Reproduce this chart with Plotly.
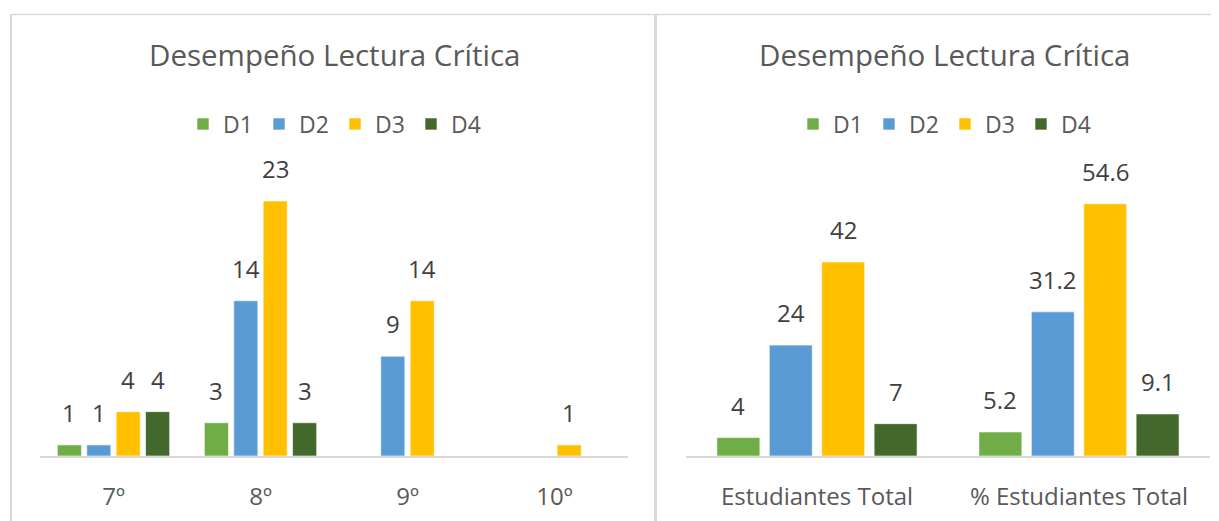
import plotly.graph_objects as go

# la pagina deja 8px de margen en el body: el grafico ocupa el resto de la ventana
OFF = 8
W, H = 1219 - OFF, 521 - OFF

series = ['D1', 'D2', 'D3', 'D4']
colors = ['#70AD47', '#5B9BD5', '#FFC000', '#43682B']

grados = ['7º', '8º', '9º', '10º']
d1_grado = [1, 3, 0, 0]
d2_grado = [1, 14, 9, 0]
d3_grado = [4, 23, 14, 1]
d4_grado = [4, 3, 0, 0]

totales = ['Estudiantes Total', '% Estudiantes Total']
d1_total = [4, 5.2]
d2_total = [24, 31.2]
d3_total = [42, 54.6]
d4_total = [7, 9.1]

titulo = 'Desempeño Lectura Crítica'

FONT = 'Open Sans'
GRIS = '#595959'
BARGAP = 0.2


def px(x):
    # pixel de pantalla -> coordenada paper
    return (x - OFF) / W


def py(y):
    return 1 - (y - OFF) / H


fig = go.Figure()

paneles = [
    (grados, [d1_grado, d2_grado, d3_grado, d4_grado], 'x', 'y', 'legend'),
    (totales, [d1_total, d2_total, d3_total, d4_total], 'x2', 'y2', 'legend2'),
]

annotations = []
for cats, vals, xa, ya, leg in paneles:
    for j, (name, col, v) in enumerate(zip(series, colors, vals)):
        fig.add_trace(go.Bar(
            x=cats, y=v, name=name, xaxis=xa, yaxis=ya, legend=leg,
            marker=dict(color=col, line=dict(color='rgba(255,255,255,0.6)', width=1)),
            hoverinfo='skip',
        ))
        # etiquetas de datos (se omiten los ceros)
        slot = (1 - BARGAP) / len(series)
        for i, val in enumerate(v):
            if val == 0:
                continue
            annotations.append(dict(
                x=i + (j - 1.5) * slot, y=val, xref=xa, yref=ya,
                text=str(val), showarrow=False, yanchor='bottom', yshift=14,
                font=dict(family=FONT, size=24, color='#404040'),
            ))

# titulos
for cx in (334, 944):
    annotations.append(dict(
        x=px(cx), y=py(55), xref='paper', yref='paper', text=titulo,
        showarrow=False, xanchor='center', yanchor='middle',
        font=dict(family=FONT, size=29.5, color=GRIS),
    ))

top, bottom = 160, 456
leg_common = dict(
    orientation='h', xanchor='center', yanchor='middle', y=py(124),
    font=dict(family=FONT, size=23, color=GRIS),
    entrywidth=31, entrywidthmode='pixels', bgcolor='rgba(0,0,0,0)',
)

axis_x = dict(
    showline=True, linecolor='#d9d9d9', linewidth=2, ticks='',
    showgrid=False, zeroline=False, ticklabelstandoff=18,
    tickfont=dict(family=FONT, size=24, color=GRIS), fixedrange=True,
)
axis_y = dict(visible=False, showgrid=False, zeroline=False, fixedrange=True)

borde = '#d9d9d9'
shapes = [
    dict(type='line', xref='paper', yref='paper', x0=px(10), x1=1, y0=py(14.5), y1=py(14.5),
         line=dict(color=borde, width=1.5)),
    dict(type='line', xref='paper', yref='paper', x0=px(11), x1=px(11), y0=py(14), y1=0,
         line=dict(color=borde, width=2)),
    dict(type='line', xref='paper', yref='paper', x0=px(655.5), x1=px(655.5), y0=py(14), y1=0,
         line=dict(color=borde, width=3)),
]

fig.update_layout(
    width=W, height=H,
    margin=dict(l=0, r=0, t=0, b=0, autoexpand=False),
    paper_bgcolor='white', plot_bgcolor='white',
    barmode='group', bargap=BARGAP, bargroupgap=0.18,
    xaxis=dict(axis_x, domain=[px(40), px(628)], anchor='y'),
    yaxis=dict(axis_y, domain=[py(bottom), py(top)], range=[0, (bottom - top) / 11.09], anchor='x'),
    xaxis2=dict(axis_x, domain=[px(686), px(1210)], anchor='y2'),
    yaxis2=dict(axis_y, domain=[py(bottom), py(top)], range=[0, (bottom - top) / 4.62], anchor='x2'),
    legend=dict(leg_common, x=px(335)),
    legend2=dict(leg_common, x=px(945)),
    annotations=annotations,
    shapes=shapes,
    showlegend=True,
)

fig.write_html('out.html')
